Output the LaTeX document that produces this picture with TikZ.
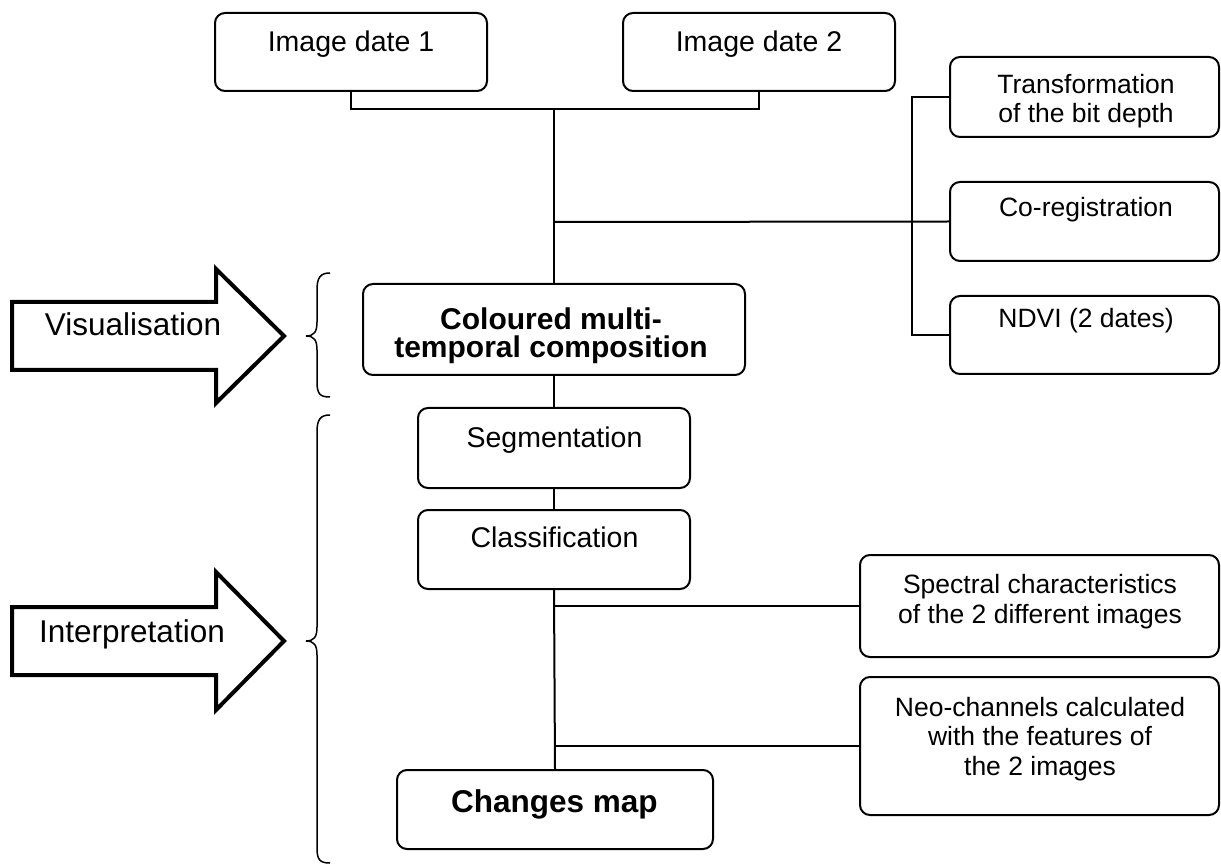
\documentclass[tikz,border=0pt]{standalone}
\usepackage{fontspec}
\setmainfont{Liberation Sans}
\begin{document}
\begin{tikzpicture}[x=1pt,y=-1pt,
  box/.style={draw=black, line width=2pt, rounded corners=10pt, inner sep=0pt, fill=white},
  conn/.style={draw=black, line width=2pt},
  txt/.style={inner sep=0pt, anchor=base, align=center},
  nfont/.style={font=\fontsize{28.5}{30}\selectfont},
  sfont/.style={font=\fontsize{26.5}{29.5}\selectfont},
  bfont/.style={font=\fontsize{30}{28.5}\selectfont\bfseries},
  afont/.style={font=\fontsize{31.5}{33}\selectfont},
  bigarrow/.style={draw=black, line width=4pt, fill=white},
  bracestyle/.style={draw=black, line width=1.5pt}
]
\useasboundingbox (0,0) rectangle (1221,866);

% boxes
\node[box, minimum width=272pt, minimum height=78pt] (d1) at (351,52) {};
\node[box, minimum width=272pt, minimum height=78pt] (d2) at (759,52) {};
\node[box, minimum width=269pt, minimum height=80pt] (trans) at (1084.5,97) {};
\node[box, minimum width=269pt, minimum height=79pt] (coreg) at (1084.5,221.5) {};
\node[box, minimum width=269pt, minimum height=78pt] (ndvi) at (1084.5,335) {};
\node[box, minimum width=382pt, minimum height=91pt] (col) at (554,329.5) {};
\node[box, minimum width=272pt, minimum height=80pt] (seg) at (554,448) {};
\node[box, minimum width=272pt, minimum height=79pt] (cls) at (554,549.5) {};
\node[box, minimum width=359pt, minimum height=102pt] (spec) at (1039.5,606) {};
\node[box, minimum width=359pt, minimum height=138pt] (neo) at (1039.5,746) {};
\node[box, minimum width=316pt, minimum height=79pt] (chg) at (555,809.5) {};

% texts (multi-line nodes: base = last line)
\node[txt, nfont] (d1t) at (351,52) {Image date 1};
\node[txt, nfont] (d2t) at (759,52) {Image date 2};
\node[txt, sfont] (transt) at (1086,123) {Transformation\\of the bit depth};
\node[txt, sfont] (coregt) at (1086,217) {Co-registration};
\node[txt, sfont] (ndvit) at (1086,328) {NDVI (2 dates)};
\node[txt, bfont] (colt) at (551,358) {Coloured multi-\\temporal composition};
\node[txt, nfont] (segt) at (554.5,447) {Segmentation};
\node[txt, nfont] (clst) at (554.5,547) {Classification};
\node[txt, sfont] (spect) at (1040,623) {Spectral characteristics\\of the 2 different images};
\node[txt, sfont] (neot) at (1040,775) {Neo-channels calculated\\with the features of\\the 2 images};
\node[txt, font=\fontsize{31.5}{33}\selectfont\bfseries] (chgt) at (554.5,812) {Changes map};

% connectors
\coordinate (j1) at (554,109);
\coordinate (b1) at (554,222);
\coordinate (rvt) at (912,97);
\coordinate (rvb) at (912,335);
\coordinate (b2) at (554,606);
\coordinate (b3) at (554,746);
\draw[conn] (d1.south) |- (j1);
\draw[conn] (d2.south) |- (j1);
\draw[conn] (j1) -- (col.north);
\draw[conn] (b1) -- (coreg.west);
\draw[conn] (trans.west) -- (rvt) -- (rvb) -- (ndvi.west);
\draw[conn] (col.south) -- (seg.north);
\draw[conn] (seg.south) -- (cls.north);
\draw[conn] (cls.south) -- (chg.north);
\draw[conn] (b2) -- (spec.west);
\draw[conn] (b3) -- (neo.west);

% big arrows
\draw[bigarrow] (12,302) -- (216,302) -- (216,269) -- (284,336) -- (216,403) -- (216,370) -- (12,370) -- cycle;
\node[txt, afont] (vist) at (133,336) {Visualisation};
\draw[bigarrow] (12,607) -- (216,607) -- (216,572) -- (284,641) -- (216,710) -- (216,675) -- (12,675) -- cycle;
\node[txt, afont] (intt) at (132,642) {Interpretation};

% braces
\draw[bracestyle] (330,273) .. controls (320,273) and (317,278) .. (317,290) -- (317,322) .. controls (317,332) and (314,336) .. (306,336) .. controls (314,336) and (317,340) .. (317,350) -- (317,382) .. controls (317,394) and (320,397) .. (330,397);
\draw[bracestyle] (330,415) .. controls (320,415) and (317,420) .. (317,432) -- (317,627) .. controls (317,637) and (314,641) .. (306,641) .. controls (314,641) and (317,645) .. (317,655) -- (317,848) .. controls (317,860) and (320,863) .. (330,863);
\end{tikzpicture}
\end{document}
